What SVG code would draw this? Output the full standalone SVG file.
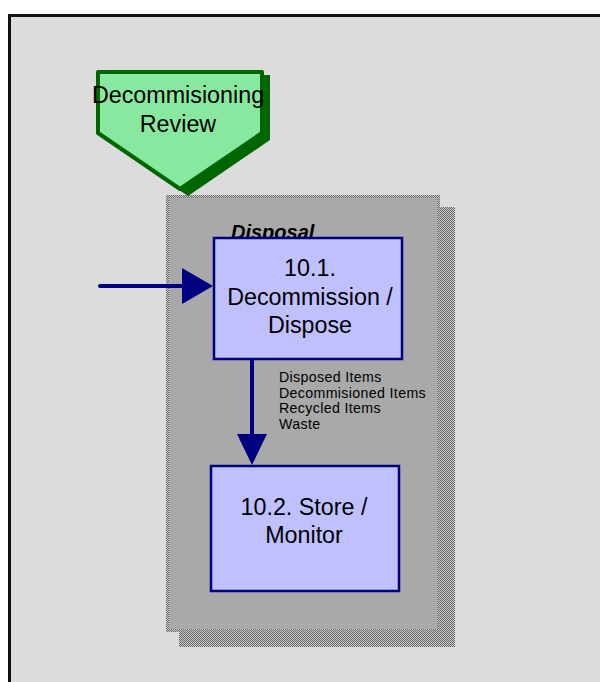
<svg xmlns="http://www.w3.org/2000/svg" width="600" height="682" viewBox="0 0 600 682">
<defs>
<pattern id="dither" width="2" height="2" patternUnits="userSpaceOnUse">
<rect width="2" height="2" fill="#c8c8c8"/>
<rect width="1" height="1" fill="#6a6a6a"/>
<rect x="1" y="1" width="1" height="1" fill="#6a6a6a"/>
</pattern>
</defs>
<style>
.proc{fill:#C0C0FF;stroke:#000080;stroke-width:2.5}
.t{font-family:"Liberation Sans",Arial,sans-serif;fill:#000;text-anchor:middle}
.big{font-size:23.3px}
.small{font-size:14.2px;letter-spacing:0.35px;text-anchor:start}
.conn{stroke:#000080;stroke-width:4;fill:none;stroke-linecap:round}
.head{fill:#000080}
</style>
<rect width="600" height="682" fill="#ffffff"/>
<rect x="9.5" y="15.5" width="600" height="680" fill="#DCDCDC" stroke="#111" stroke-width="3"/>

<g id="disposal">
<rect x="179" y="207" width="276" height="440" fill="url(#dither)"/>
<rect x="166" y="195" width="274" height="437" fill="url(#dither)"/>
<rect x="169" y="198" width="268" height="431" fill="#A9A9A9"/>
<text x="231" y="239" font-family="Liberation Sans,Arial,sans-serif" font-size="20" font-weight="bold" font-style="italic" fill="#000">Disposal</text>
</g>

<g id="review">
<path d="M106,75 L270,75 L270,140 L188,196 L106,140 Z" fill="#006600"/>
<path d="M98,72 L262,72 L262,133 L180,189 L98,133 Z" fill="#88E8A0" stroke="#006600" stroke-width="4" stroke-linejoin="round"/>
<text class="t" x="178" y="103" font-size="23.3">Decommisioning</text>
<text class="t" x="178" y="132" font-size="23.3">Review</text>
</g>

<g id="n10_1">
<rect class="proc" x="214" y="238" width="188" height="121"/>
<text class="t big" x="310" y="276">10.1.</text>
<text class="t big" x="310" y="305">Decommission /</text>
<text class="t big" x="310" y="333">Dispose</text>
</g>

<g id="n10_2">
<rect class="proc" x="211" y="466" width="188" height="125"/>
<text class="t big" x="304" y="515">10.2. Store /</text>
<text class="t big" x="304" y="543">Monitor</text>
</g>

<g id="connectors">
<line class="conn" x1="100" y1="286" x2="185" y2="286"/>
<path class="head" d="M182,268 L213,286 L182,304 Z"/>
<line class="conn" x1="252" y1="360" x2="252" y2="436"/>
<path class="head" d="M237,434 L252,465 L267,434 Z"/>
<text class="t small" x="279" y="382">Disposed Items</text>
<text class="t small" x="279" y="397.5">Decommisioned Items</text>
<text class="t small" x="279" y="413">Recycled Items</text>
<text class="t small" x="279" y="428.5">Waste</text>
</g>
</svg>
